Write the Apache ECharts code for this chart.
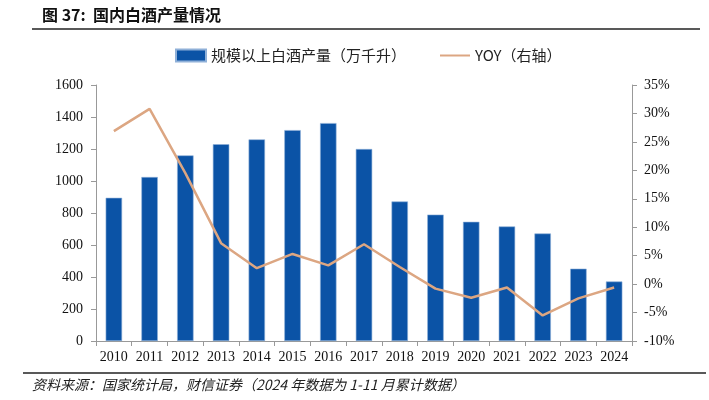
<!DOCTYPE html>
<html><head><meta charset="utf-8">
<script src="https://cdn.jsdelivr.net/npm/echarts@6/dist/echarts.min.js"></script>
<style>html,body{margin:0;padding:0;background:#fff}#c{width:709px;height:400px}</style>
</head><body><div id="c"></div>
<script>
const years = ['2010','2011','2012','2013','2014','2015','2016','2017','2018','2019','2020','2021','2022','2023','2024'];
const output = [895, 1025, 1160, 1230, 1260, 1318, 1362, 1200, 872, 790, 745, 716, 672, 452, 372];
const yoy = [26.9, 30.8, 19.5, 7.2, 2.8, 5.3, 3.3, 7.0, 3.0, -0.8, -2.4, -0.6, -5.5, -2.5, -0.6];
const barName = '规模以上白酒产量（万千升）';
const lineName = 'YOY（右轴）';
const serif = '"Liberation Serif","Times New Roman",serif';
const cjk = '"Noto Sans CJK SC",sans-serif';
const chart = echarts.init(document.getElementById('c'));
chart.setOption({
  animation:false,
  graphic:[
    {type:'text',left:42,top:7,style:{text:'图 37:  国内白酒产量情况',font:'bold 16px '+cjk,fill:'#111'}},
    {type:'line',shape:{x1:32,y1:29,x2:700,y2:29},style:{stroke:'#222',lineWidth:1.5}},
    {type:'line',shape:{x1:23,y1:373,x2:706,y2:373},style:{stroke:'#222',lineWidth:1.5}},
    {type:'text',left:32,top:378,style:{text:'资料来源：国家统计局，财信证券（2024 年数据为 1-11 月累计数据）',font:'italic 14px '+cjk,fill:'#222'}}
  ],
  legend:{top:43,left:170,itemGap:34,itemWidth:30,itemHeight:12,
    textStyle:{fontFamily:cjk,fontSize:15,color:'#222'},
    data:[{name:barName,icon:'rect'},{name:lineName,icon:'path://M0,0L30,0L30,2L0,2Z'}]},
  grid:{left:96,right:77,top:85,bottom:59},
  xAxis:{type:'category',data:years,
    axisLine:{lineStyle:{color:'#999'}},
    axisTick:{show:true,interval:0,length:5,lineStyle:{color:'#999'}},
    axisLabel:{interval:0,color:'#111',fontFamily:serif,fontSize:14,margin:9}},
  yAxis:[
    {type:'value',min:0,max:1600,interval:200,
     axisLine:{show:true,lineStyle:{color:'#999'}},
     axisTick:{show:true,length:5,lineStyle:{color:'#999'}},
     splitLine:{show:false},
     axisLabel:{color:'#111',fontFamily:serif,fontSize:14,margin:13,formatter:function(v){return String(v);}}},
    {type:'value',min:-10,max:35,interval:5,position:'right',
     axisLine:{show:true,lineStyle:{color:'#999'}},
     axisTick:{show:true,length:5,lineStyle:{color:'#999'}},
     splitLine:{show:false},
     axisLabel:{color:'#111',fontFamily:serif,fontSize:14,margin:12,formatter:'{value}%'}}
  ],
  series:[
    {name:barName,type:'bar',data:output,barWidth:'46%',
     itemStyle:{color:'#0b53a6',borderColor:'#8fb0d8',borderWidth:0.6}},
    {name:lineName,type:'line',yAxisIndex:1,data:yoy,symbol:'none',
     lineStyle:{color:'#dca682',width:2.5},itemStyle:{color:'#dca682'}}
  ]
});
</script></body></html>
